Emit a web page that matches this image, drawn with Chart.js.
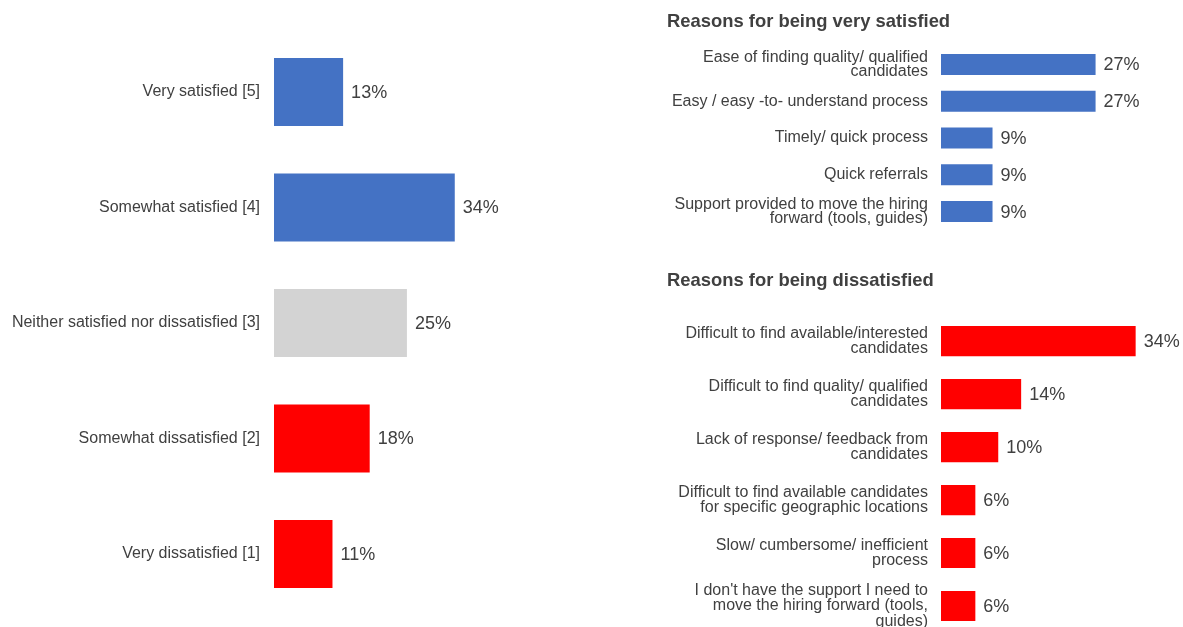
<!DOCTYPE html>
<html>
<head>
<meta charset="utf-8">
<script src="https://cdn.jsdelivr.net/npm/chart.js@4/dist/chart.umd.min.js"></script>
<style>
  html, body { margin: 0; padding: 0; background: #ffffff; width: 1183px; height: 627px; overflow: hidden; }
  .box { position: absolute; }
</style>
</head>
<body>
<div class="box" style="left:0;top:0;width:593px;height:627px;"><canvas id="c1"></canvas></div>
<div class="box" style="left:655px;top:0;width:528px;height:240px;"><canvas id="c2"></canvas></div>
<div class="box" style="left:655px;top:250px;width:528px;height:390px;"><canvas id="c3"></canvas></div>
<script>
// ---- Data ----
const satisfactionCategories = [
  "Very satisfied [5]",
  "Somewhat satisfied [4]",
  "Neither satisfied nor dissatisfied [3]",
  "Somewhat dissatisfied [2]",
  "Very dissatisfied [1]"
];
const satisfactionValues = [13, 34, 25, 18, 11];

const satisfiedTitle = "Reasons for being very satisfied";
const satisfiedReasons = [
  ["Ease of finding quality/ qualified", "candidates"],
  "Easy / easy -to- understand process",
  "Timely/ quick process",
  "Quick referrals",
  ["Support provided to move the hiring", "forward (tools, guides)"]
];
const satisfiedValues = [27, 27, 9, 9, 9];

const dissatisfiedTitle = "Reasons for being dissatisfied";
const dissatisfiedReasons = [
  ["Difficult to find available/interested", "candidates"],
  ["Difficult to find quality/ qualified", "candidates"],
  ["Lack of response/ feedback from", "candidates"],
  ["Difficult to find available candidates", "for specific geographic locations"],
  ["Slow/ cumbersome/ inefficient", "process"],
  ["I don't have the support I need to", "move the hiring forward (tools,", "guides)"]
];
const dissatisfiedValues = [34, 14, 10, 6, 6, 6];

// ---- Styles ----
const BLUE = "#4472C4", GREY = "#D3D3D3", RED = "#FF0000", TEXT = "#404040";
const satisfactionColors = [BLUE, BLUE, GREY, RED, RED];
const FONT = "'Liberation Sans', Arial, sans-serif";

const valueLabels = {
  id: "valueLabels",
  afterDatasetsDraw(chart) {
    const ctx = chart.ctx;
    const ds = chart.data.datasets[0];
    const meta = chart.getDatasetMeta(0);
    ctx.save();
    ctx.font = "18px " + FONT;
    ctx.fillStyle = TEXT;
    ctx.textAlign = "left";
    ctx.textBaseline = "middle";
    meta.data.forEach((bar, i) => {
      ctx.fillText(ds.data[i] + "%", bar.x + 8, bar.y + 1);
    });
    ctx.restore();
  }
};

function makeChart(id, labels, values, colors, opts) {
  return new Chart(document.getElementById(id), {
    type: "bar",
    data: {
      labels: labels,
      datasets: [{
        data: values,
        backgroundColor: colors,
        barPercentage: opts.barPct,
        categoryPercentage: 1
      }]
    },
    options: {
      indexAxis: "y",
      responsive: true,
      maintainAspectRatio: false,
      animation: false,
      events: [],
      layout: { padding: opts.padding },
      plugins: {
        legend: { display: false },
        tooltip: { enabled: false },
        title: opts.title ? {
          display: true,
          text: opts.title,
          align: "start",
          color: TEXT,
          font: { family: FONT, size: 18.4, weight: "bold", lineHeight: 1.2 },
          padding: opts.titlePadding
        } : { display: false }
      },
      scales: {
        x: { display: false, min: 0, max: opts.max },
        y: {
          grid: { display: false, drawTicks: false },
          border: { display: false },
          ticks: {
            color: TEXT,
            padding: opts.tickPad,
            font: { family: FONT, size: 16, lineHeight: opts.lineHeight || 1.2 }
          },
          afterFit(scale) {
            scale.width = opts.axisWidth;
            scale.paddingTop = 0;
            scale.paddingBottom = 0;
          }
        }
      }
    },
    plugins: [valueLabels]
  });
}

makeChart("c1", satisfactionCategories, satisfactionValues, satisfactionColors, {
  barPct: 0.59, max: 60, axisWidth: 274, tickPad: 14,
  padding: { top: 34.25, bottom: 15.25, left: 0, right: 0 }
});

makeChart("c2", satisfiedReasons, satisfiedValues, BLUE, {
  barPct: 0.57, max: 40, axisWidth: 274, tickPad: 13, lineHeight: 0.92,
  title: satisfiedTitle, titlePadding: { top: 11, bottom: 13 },
  padding: { top: 0, bottom: 10, left: 12, right: 13 }
});

makeChart("c3", dissatisfiedReasons, dissatisfiedValues, RED, {
  barPct: 0.57, max: 40, axisWidth: 274, tickPad: 13, lineHeight: 0.95,
  title: dissatisfiedTitle, titlePadding: { top: 20, bottom: 22.5 },
  padding: { top: 0, bottom: 7.5, left: 12, right: 13 }
});
</script>
</body>
</html>
